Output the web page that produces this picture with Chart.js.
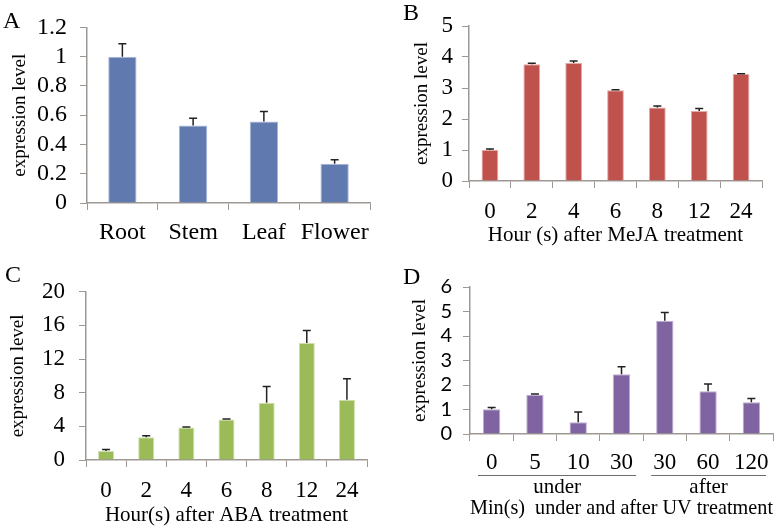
<!DOCTYPE html>
<html>
<head>
<meta charset="utf-8">
<script src="https://cdn.jsdelivr.net/npm/chart.js@4.4.1/dist/chart.umd.min.js"></script>
<style>
body { margin: 0; background: #fff; width: 781px; height: 528px; position: relative; overflow: hidden; font-family: 'Liberation Serif', serif; }
canvas { position: absolute; }
.tag { position: absolute; font-size: 24px; line-height: 24px; color: #000; }
</style>
</head>
<body>
<canvas id="chartA" width="390" height="264" style="left:0;top:0"></canvas>
<canvas id="chartB" width="391" height="264" style="left:390px;top:0"></canvas>
<canvas id="chartC" width="390" height="264" style="left:0;top:264px"></canvas>
<canvas id="chartD" width="391" height="264" style="left:390px;top:264px"></canvas>
<div class="tag" style="left:3px;top:8px">A</div>
<div class="tag" style="left:403px;top:0px">B</div>
<div class="tag" style="left:5px;top:262px">C</div>
<div class="tag" style="left:403px;top:264px">D</div>
<script>
// values
var tissueLabels = ['Root', 'Stem', 'Leaf', 'Flower'];
var tissueValues = [1.0, 0.53, 0.557, 0.268];
var tissueErrors = [0.088, 0.05, 0.068, 0.027];

var mejaHours = ['0', '2', '4', '6', '8', '12', '24'];
var mejaValues = [1.0, 3.77, 3.81, 2.93, 2.37, 2.26, 3.45];
var mejaErrors = [0.03, 0.03, 0.06, 0.01, 0.05, 0.08, 0.01];

var abaHours = ['0', '2', '4', '6', '8', '12', '24'];
var abaValues = [1.07, 2.71, 3.85, 4.81, 6.81, 13.9, 7.17];
var abaErrors = [0.18, 0.18, 0.08, 0.06, 1.93, 1.5, 2.49];

var uvMinutes = ['0', '5', '10', '30', '30', '60', '120'];
var uvValues = [1.01, 1.6, 0.48, 2.44, 4.62, 1.75, 1.3];
var uvErrors = [0.07, 0.03, 0.42, 0.31, 0.34, 0.29, 0.15];
var uvGroups = ['under', 'after'];
var uvGroupStart = [0, 4];
var uvGroupEnd = [3, 6];

Chart.defaults.font.family = "'Liberation Serif', serif";
Chart.defaults.color = '#000';

var axisGray = '#9d9893';

// upper half error bars with a cap
var errorBars = {
    id: 'errorBars',
    afterDatasetsDraw: function (chart) {
        var ctx = chart.ctx;
        var ds = chart.data.datasets[0];
        var meta = chart.getDatasetMeta(0);
        var yScale = chart.scales.y;
        ctx.save();
        ctx.strokeStyle = '#222';
        ctx.lineWidth = 1.5;
        meta.data.forEach(function (bar, i) {
            var top = yScale.getPixelForValue(ds.data[i] + ds.errors[i]);
            var base = yScale.getPixelForValue(ds.data[i]);
            ctx.beginPath();
            ctx.moveTo(bar.x, base);
            ctx.lineTo(bar.x, top);
            ctx.moveTo(bar.x - 4, top);
            ctx.lineTo(bar.x + 4, top);
            ctx.stroke();
        });
        ctx.restore();
    }
};

// "under" / "after" brackets under the UV panel
var uvBrackets = {
    id: 'uvBrackets',
    afterDraw: function (chart) {
        var ctx = chart.ctx;
        var x = chart.scales.x;
        var half = (x.getPixelForValue(1) - x.getPixelForValue(0)) / 2;
        ctx.save();
        ctx.strokeStyle = '#6e6e6e';
        ctx.lineWidth = 1;
        ctx.fillStyle = '#000';
        ctx.font = "21px 'Liberation Serif'";
        ctx.textAlign = 'center';
        ctx.textBaseline = 'middle';
        for (var g = 0; g < uvGroups.length; g++) {
            var x0 = x.getPixelForValue(uvGroupStart[g]) - half + 8;
            var x1 = x.getPixelForValue(uvGroupEnd[g]) + half - 7;
            ctx.beginPath();
            ctx.moveTo(x0, 211.5);
            ctx.lineTo(x1, 211.5);
            ctx.stroke();
            ctx.fillText(uvGroups[g], (x0 + x1) / 2, 223);
        }
        ctx.restore();
    }
};

function makeChart(id, labels, values, errors, color, o) {
    var ctx = document.getElementById(id).getContext('2d');
    return new Chart(ctx, {
        type: 'bar',
        data: {
            labels: labels,
            datasets: [{
                data: values,
                errors: errors,
                backgroundColor: color,
                borderColor: o.edge,
                borderWidth: 1,
                barPercentage: 0.4,
                categoryPercentage: 1
            }]
        },
        options: {
            responsive: false,
            animation: false,
            layout: { padding: { left: 0, top: o.top, right: o.right, bottom: 0 } },
            plugins: { legend: { display: false }, tooltip: { enabled: false } },
            scales: {
                x: {
                    afterFit: function (s) { s.height = o.xHeight; },
                    grid: { drawOnChartArea: false, color: axisGray, tickLength: 7 },
                    border: { color: axisGray, width: 1.5 },
                    ticks: { font: { size: o.xFont }, padding: o.xPad, maxRotation: 0, autoSkip: false },
                    title: {
                        display: !!o.xTitle,
                        text: o.xTitle,
                        font: { size: 21 },
                        padding: { top: 0, bottom: o.xTitlePad }
                    }
                },
                y: {
                    min: 0,
                    max: o.yMax,
                    afterFit: function (s) { s.width = o.yWidth; },
                    grid: { drawOnChartArea: false, color: axisGray, tickLength: 7 },
                    border: { color: axisGray, width: 1.5 },
                    ticks: {
                        stepSize: o.yStep,
                        autoSkip: false,
                        padding: o.yPad,
                        font: { size: o.yFont, family: o.yFamily },
                        callback: function (v) { return String(Math.round(v * 10) / 10); }
                    },
                    title: {
                        display: true,
                        text: 'expression level',
                        font: { size: 19 },
                        padding: { top: o.yTitlePad, bottom: 0 }
                    }
                }
            }
        },
        plugins: o.extra ? [errorBars, o.extra] : [errorBars]
    });
}

makeChart('chartA', tissueLabels, tissueValues, tissueErrors, '#6079af', {
    edge: '#a9b7d8', top: 24, right: 20, yWidth: 87, xHeight: 61, yMax: 1.2, yStep: 0.2,
    xFont: 24, xPad: 8.6, yFont: 24, yPad: 13, yTitlePad: 8.6
});

makeChart('chartB', mejaHours, mejaValues, mejaErrors, '#c0524d', {
    edge: '#e6a9a4', top: 26, right: 19, yWidth: 79, xHeight: 83, yMax: 5, yStep: 1,
    xFont: 23, xPad: 10.2, yFont: 23, yPad: 9, yTitlePad: 21,
    xTitle: 'Hour (s) after MeJA treatment', xTitlePad: 16.4
});

makeChart('chartC', abaHours, abaValues, abaErrors, '#9bbb59', {
    edge: '#cfe0ad', top: 9, right: 23, yWidth: 86, xHeight: 68, yMax: 20, yStep: 4,
    xFont: 23, xPad: 10.2, yFont: 23, yPad: 14, yTitlePad: 6.6,
    xTitle: 'Hour(s) after ABA treatment', xTitlePad: 0
});

makeChart('chartD', uvMinutes, uvValues, uvErrors, '#8064a2', {
    edge: '#bfaed3', top: 16, right: 8, yWidth: 80, xHeight: 94, yMax: 6, yStep: 1,
    xFont: 23, xPad: 8.2, yFont: 20, yFamily: 'Lato', yPad: 11, yTitlePad: 18.6,
    xTitle: 'Min(s)  under and after UV treatment', xTitlePad: 7.4,
    extra: uvBrackets
});
</script>
</body>
</html>
